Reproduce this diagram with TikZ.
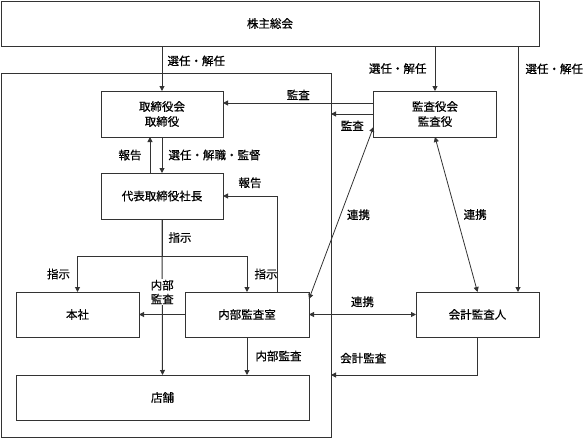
\documentclass[tikz,border=0pt]{standalone}
\usepackage{fontspec}
\setmainfont[FakeBold=0.6]{Noto Sans CJK JP}
\definecolor{org-line}{HTML}{333333}
\usetikzlibrary{arrows.meta,calc}

\begin{document}
\begin{tikzpicture}[
  x=1pt, y=-1pt,
  font=\fontsize{11.5}{15}\selectfont,
  every node/.style={align=center},
  unit/.style={rectangle, draw=org-line, line width=1pt, fill=white, inner sep=2pt, outer sep=0pt, text=black},
  frame/.style={rectangle, draw=org-line, line width=1pt, outer sep=0pt},
  arrow/.style={-{Triangle[length=5pt,width=5pt]}, line width=1pt, org-line},
  twoway/.style={{Triangle[length=5pt,width=5pt]}-{Triangle[length=5pt,width=5pt]}, line width=0.8pt, org-line},
  lbl/.style={inner sep=1pt, text=black}
]
  \useasboundingbox (0,0) rectangle (584,439);

  \node[frame, minimum width=330pt, minimum height=364pt] (company) at (166,255) {};

  \node[unit, minimum width=538pt, minimum height=45pt] (soukai) at (270,23.5) {株主総会};
  \node[unit, minimum width=122pt, minimum height=46pt] (torishimari) at (162,114) {取締役会\\取締役};
  \node[unit, minimum width=123pt, minimum height=46pt] (kansayaku) at (435,114) {監査役会\\監査役};
  \node[unit, minimum width=122pt, minimum height=46pt] (shacho) at (162,196) {代表取締役社長};
  \node[unit, minimum width=123pt, minimum height=45pt] (honsha) at (77.5,314.5) {本社};
  \node[unit, minimum width=124pt, minimum height=45pt] (naibu) at (247,314.5) {内部監査室};
  \node[unit, minimum width=123pt, minimum height=45pt] (kaikei) at (477.5,314.5) {会計監査人};
  \node[unit, minimum width=293pt, minimum height=45pt] (tenpo) at (162.5,397.5) {店舗};

  \coordinate (split) at ([yshift=-37pt]shacho.south);

  \draw[arrow] (torishimari.north |- soukai.south) -- (torishimari.north)
    node[lbl, pos=0.33, right=4pt] {選任・解任};
  \draw[arrow] (kansayaku.north |- soukai.south) -- (kansayaku.north)
    node[lbl, midway, left=7pt] {選任・解任};
  \draw[arrow] ([xshift=40.5pt]kaikei.north |- soukai.south) -- ([xshift=40.5pt]kaikei.north)
    node[lbl, pos=0.093, right=6pt] {選任・解任};

  \draw[arrow] ([yshift=11pt]kansayaku.west) -- ([yshift=11pt]kansayaku.west -| torishimari.east)
    node[lbl, midway, above=1.5pt] {監査};
  \draw[arrow] (kansayaku.west) -- (kansayaku.west -| company.east)
    node[lbl, midway, below=5pt] {監査};

  \draw[twoway] ([yshift=-13pt]kansayaku.west) -- ([yshift=15.5pt]naibu.east)
    node[lbl, pos=0.51, right=5pt] {連携};
  \draw[twoway] (kansayaku.south) -- (kaikei.north)
    node[lbl, midway, right=6pt] {連携};

  \draw[arrow] ([xshift=-12pt]shacho.north) -- ([xshift=-12pt]torishimari.south)
    node[lbl, midway, left=7pt] {報告};
  \draw[arrow] (torishimari.south) -- (shacho.north)
    node[lbl, midway, right=5pt] {選任・解職・監督};

  \draw[arrow] ([xshift=30pt]naibu.north) |- (shacho.east)
    node[lbl, pos=0.75, above=6.5pt] {報告};

  \draw[line width=1pt, org-line] (shacho.south) -- (split)
    node[lbl, midway, right=5pt] {指示};
  \draw[arrow] (split) -| (honsha.north)
    node[lbl, pos=0.75, left=6pt] {指示};
  \draw[arrow] (split) -| (naibu.north)
    node[lbl, pos=0.75, right=6pt] {指示};
  \draw[arrow] (shacho.south) -- (tenpo.north)
    node[lbl, pos=0.468, fill=white, font=\fontsize{11.5}{14}\selectfont] {内部\\監査};

  \draw[arrow] (naibu.west) -- (honsha.east);
  \draw[arrow] (naibu.south) -- (naibu.south |- tenpo.north)
    node[lbl, midway, right=7pt] {内部監査};
  \draw[twoway] (naibu.east) -- (kaikei.west)
    node[lbl, midway, above=6pt] {連携};
  \draw[arrow] (kaikei.south) |- (company.east |- tenpo.north)
    node[lbl, pos=0.89, above=10pt] {会計監査};
\end{tikzpicture}
\end{document}
